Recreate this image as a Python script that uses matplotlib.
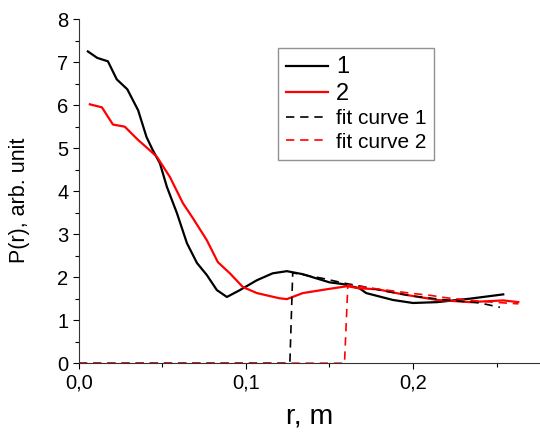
import matplotlib.pyplot as plt
from matplotlib.ticker import MultipleLocator, FuncFormatter

plt.rcParams['font.family'] = ['Liberation Sans', 'DejaVu Sans']

# curve 1 (black)
r1 = [0.0054, 0.011, 0.0174, 0.0227, 0.029, 0.0355, 0.0405, 0.0443, 0.0485,
      0.0527, 0.0587, 0.0647, 0.0707, 0.0766, 0.0826, 0.0886, 0.0964, 0.1066,
      0.116, 0.1245, 0.134, 0.150, 0.158, 0.168, 0.172, 0.188, 0.200, 0.2145,
      0.234, 0.254]
p1 = [7.25, 7.10, 7.02, 6.60, 6.37, 5.88, 5.26, 4.95, 4.65,
      4.10, 3.49, 2.79, 2.33, 2.05, 1.70, 1.54, 1.70, 1.93,
      2.09, 2.14, 2.07, 1.88, 1.84, 1.74, 1.63, 1.47, 1.40, 1.42,
      1.50, 1.60]

# curve 2 (red)
r2 = [0.0066, 0.0138, 0.0204, 0.0275, 0.0355, 0.0425, 0.0467, 0.0545, 0.0623,
      0.0683, 0.0766, 0.0832, 0.0904, 0.0982, 0.1066, 0.120, 0.1245, 0.134,
      0.1485, 0.1605, 0.168, 0.1785, 0.194, 0.2145, 0.234, 0.254, 0.263]
p2 = [6.02, 5.95, 5.55, 5.50, 5.19, 4.95, 4.80, 4.33, 3.72,
      3.37, 2.86, 2.35, 2.09, 1.77, 1.63, 1.51, 1.49, 1.63,
      1.72, 1.79, 1.74, 1.72, 1.60, 1.47, 1.42, 1.46, 1.42]

# fit curves
rf1 = [0.0, 0.1263, 0.128, 0.145, 0.159, 0.169, 0.18, 0.20, 0.22, 0.240, 0.252]
pf1 = [0.0, 0.0, 2.10, 1.98, 1.86, 1.79, 1.70, 1.56, 1.47, 1.40, 1.30]
rf2 = [0.0, 0.159, 0.161, 0.18, 0.20, 0.21, 0.22, 0.24, 0.263]
pf2 = [0.0, 0.0, 1.82, 1.72, 1.62, 1.58, 1.52, 1.44, 1.38]

fig = plt.figure(figsize=(5.4, 4.36), dpi=100)
ax = fig.add_axes([0.146, 0.167, 0.854, 0.789])

ax.plot(r1, p1, color='black', lw=1.6, label='1')
ax.plot(r2, p2, color='red', lw=1.6, label='2')
ax.plot(rf1, pf1, color='black', lw=1.2, ls=(0, (5, 3.5)), label='fit curve 1')
ax.plot(rf2, pf2, color='red', lw=1.2, ls=(0, (5, 3.5)), label='fit curve 2')

ax.set_xlim(0, 0.276)
ax.set_ylim(0, 8)
for s in ['right', 'top']:
    ax.spines[s].set_visible(False)
for s in ['left', 'bottom']:
    ax.spines[s].set_linewidth(0.8)
    ax.spines[s].set_color('#333333')

ax.xaxis.set_major_locator(MultipleLocator(0.1))
ax.xaxis.set_minor_locator(MultipleLocator(0.05))
ax.yaxis.set_major_locator(MultipleLocator(1))
ax.yaxis.set_minor_locator(MultipleLocator(0.5))
ax.xaxis.set_major_formatter(FuncFormatter(lambda v, pos: '{0:.1f}'.format(v).replace('.', ',')))
ax.tick_params(which='major', direction='out', length=4, width=0.8, labelsize=14.5)
ax.tick_params(which='minor', direction='out', length=3, width=0.8)

ax.set_xlabel('r, m', fontsize=20.5, labelpad=8)
ax.set_ylabel('P(r), arb. unit', fontsize=15.5)
ax.yaxis.set_label_coords(-0.106, 0.474)

leg = ax.legend(loc='upper left', bbox_to_anchor=(0.432, 0.916), fontsize=15,
                frameon=True, fancybox=False, edgecolor='#777777',
                handlelength=2.0, handletextpad=0.4, labelspacing=0.22,
                borderpad=0.38, borderaxespad=0)
leg.get_frame().set_linewidth(1.0)
for t in leg.get_texts()[:2]:
    t.set_fontsize(17)

fig.savefig('out.png', dpi=100)
